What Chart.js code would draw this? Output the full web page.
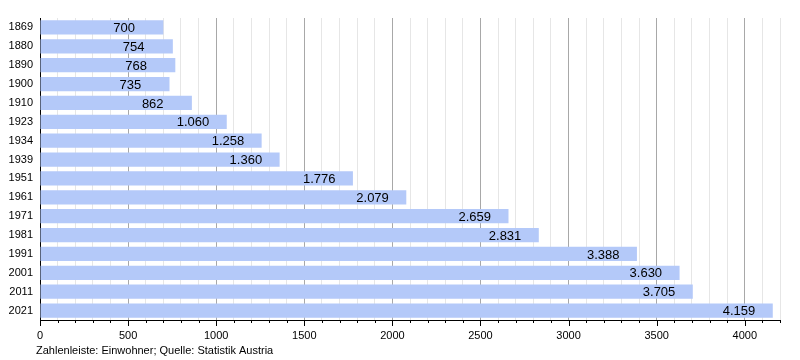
<!DOCTYPE html>
<html>
<head>
<meta charset="utf-8">
<script src="https://cdn.jsdelivr.net/npm/chart.js@4"></script>
<style>
  body { margin: 0; background: #fff; }
  #wrap { width: 800px; height: 360px; }
</style>
</head>
<body>
<div id="wrap"><canvas id="chart"></canvas></div>
<script>
const years = ['1869', '1880', '1890', '1900', '1910', '1923', '1934', '1939', '1951', '1961', '1971', '1981', '1991', '2001', '2011', '2021'];
const population = [700, 754, 768, 735, 862, 1060, 1258, 1360, 1776, 2079, 2659, 2831, 3388, 3630, 3705, 4159];
const footerText = 'Zahlenleiste: Einwohner; Quelle: Statistik Austria';

const fontFamily = '"Liberation Sans", Arial, sans-serif';

// value labels inside the bars + minor/major tick marks + footer
const extras = {
    id: 'extras',
    afterDatasetsDraw(chart) {
        const ctx = chart.ctx;
        const meta = chart.getDatasetMeta(0);
        ctx.save();
        ctx.font = '13px ' + fontFamily;
        ctx.fillStyle = '#000';
        ctx.textAlign = 'left';
        ctx.textBaseline = 'middle';
        meta.data.forEach((bar, i) => {
            const txt = population[i].toLocaleString('de-DE');
            ctx.fillText(txt, bar.x - 50, bar.y + 1);
        });
        ctx.restore();
    },
    afterDraw(chart) {
        const ctx = chart.ctx;
        const x = chart.scales.x;
        const area = chart.chartArea;
        ctx.save();
        ctx.strokeStyle = '#000';
        ctx.lineWidth = 1;
        for (let v = 0; v <= x.max; v += 100) {
            const px = Math.round(x.getPixelForValue(v)) + 0.5;
            const len = v % 500 === 0 ? 6 : 3;
            ctx.beginPath();
            ctx.moveTo(px, area.bottom);
            ctx.lineTo(px, area.bottom + len);
            ctx.stroke();
        }
        ctx.font = '11px ' + fontFamily;
        ctx.fillStyle = '#000';
        ctx.textBaseline = 'middle';
        ctx.fillText(footerText, 36, 351);
        ctx.restore();
    }
};

new Chart(document.getElementById('chart'), {
    type: 'bar',
    data: {
        labels: years,
        datasets: [{
            data: population,
            backgroundColor: '#b4c9f9',
            borderWidth: 0,
            barPercentage: 0.75,
            categoryPercentage: 1
        }]
    },
    options: {
        indexAxis: 'y',
        responsive: true,
        maintainAspectRatio: false,
        animation: false,
        layout: {
            padding: { top: 18, right: 20, left: 0, bottom: 0 }
        },
        plugins: {
            legend: { display: false },
            tooltip: { enabled: false }
        },
        scales: {
            x: {
                min: 0,
                max: 4200,
                ticks: {
                    stepSize: 100,
                    autoSkip: false,
                    maxRotation: 0,
                    padding: 9,
                    color: '#000',
                    font: { size: 11, family: fontFamily },
                    callback: v => (v % 500 === 0 ? v : '')
                },
                grid: {
                    drawTicks: false,
                    color: c => (c.tick && c.tick.value % 500 === 0 ? '#a8a8a8' : '#e6e6e6')
                },
                border: { color: '#000', width: 1 },
                afterFit: s => { s.height = 40; }
            },
            y: {
                ticks: {
                    padding: 7,
                    color: '#000',
                    font: { size: 11, family: fontFamily }
                },
                grid: { display: false, drawTicks: false },
                border: { color: '#000', width: 1 },
                afterFit: s => { s.width = 40; }
            }
        }
    },
    plugins: [extras]
});
</script>
</body>
</html>
